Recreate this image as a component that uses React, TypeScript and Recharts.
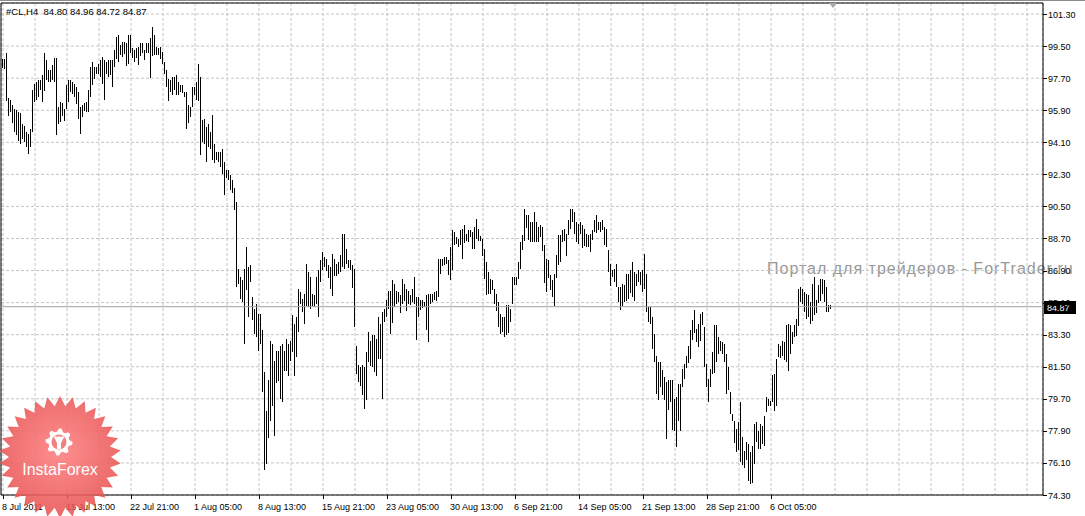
import React from "react";
import { BarChart, Bar, XAxis, YAxis, CartesianGrid, ReferenceLine, ReferenceArea } from "recharts";

// H4 bars of #CL (high / low per bar)
const highs = [
  98.75, 98.75, 99.09, 96.56, 96.5, 96.18, 95.99, 95.9, 95.81, 95.75,
  95.15, 95.0, 94.68, 94.59, 94.87, 97.03, 97.4, 97.49, 97.59, 97.59,
  97.87, 99.14, 98.71, 98.15, 98.15, 98.43, 98.81, 98.81, 96.09, 96.37,
  96.28, 95.99, 97.31, 97.59, 97.59, 97.49, 97.4, 97.21, 96.93, 96.09,
  96.18, 96.28, 96.37, 97.03, 98.34, 98.62, 98.34, 98.34, 98.52, 98.71,
  98.9, 98.71, 98.62, 98.71, 98.71, 98.71, 99.27, 100.02, 100.12, 99.55,
  99.74, 99.74, 99.65, 100.12, 100.12, 99.37, 99.27, 99.37, 99.46, 99.65,
  99.65, 99.27, 99.65, 99.65, 99.93, 100.59, 100.12, 99.46, 99.37, 99.46,
  99.18, 98.62, 98.15, 97.68, 97.59, 97.77, 97.77, 97.87, 97.49, 97.31,
  97.31, 96.93, 96.93, 96.18, 96.09, 97.21, 97.21, 97.49, 98.52, 97.77,
  95.34, 95.43, 94.96, 95.15, 94.68, 95.62, 94.03, 93.56, 93.56, 93.56,
  93.75, 92.99, 92.53, 92.53, 92.25, 91.97, 91.52, 90.75, 87.0, 86.53,
  86.35, 87.0, 88.22, 87.1, 87.19, 85.41, 84.75, 85.03, 84.47, 84.47,
  83.54, 81.19, 79.04, 80.73, 82.97, 82.79, 81.85, 82.41, 82.41, 82.69,
  82.79, 82.41, 83.07, 82.79, 82.97, 84.38, 83.91, 84.29, 85.88, 85.69,
  85.32, 85.6, 87.28, 86.82, 86.53, 85.6, 85.5, 86.53, 86.91, 87.47,
  87.94, 87.66, 87.56, 87.19, 87.1, 87.85, 87.56, 87.28, 87.38, 87.75,
  88.97, 88.97, 88.13, 87.47, 87.47, 87.19, 87.0, 82.69, 81.57, 81.48,
  81.57, 81.48, 82.32, 83.44, 82.97, 83.26, 83.26, 83.07, 84.29, 83.91,
  84.57, 84.75, 85.22, 85.78, 85.78, 86.35, 86.16, 85.78, 85.69, 85.5,
  86.44, 86.16, 85.88, 85.78, 85.5, 85.88, 86.53, 85.41, 85.41, 85.22,
  85.22, 85.13, 85.5, 85.6, 85.6, 85.6, 85.69, 85.78, 87.57, 87.57,
  87.57, 87.66, 87.66, 87.47, 88.22, 89.16, 89.06, 88.78, 88.69, 89.16,
  89.25, 89.44, 88.97, 89.16, 89.16, 89.06, 89.35, 89.81, 89.25, 88.84,
  88.69, 88.13, 87.38, 86.82, 86.44, 86.35, 85.88, 85.6, 85.13, 84.47,
  84.29, 84.29, 84.94, 84.94, 84.75, 86.53, 86.53, 86.53, 87.38, 88.5,
  88.88, 90.38, 90.0, 90.0, 89.63, 89.63, 90.19, 89.63, 89.35, 89.44,
  89.35, 88.32, 87.57, 87.47, 86.63, 86.35, 86.72, 87.75, 88.88, 88.88,
  89.16, 89.25, 88.97, 89.72, 90.38, 90.38, 90.19, 89.63, 89.53, 89.63,
  89.44, 89.25, 88.97, 88.88, 88.97, 89.16, 89.72, 90.0, 89.63, 89.63,
  89.72, 89.35, 89.25, 88.03, 87.28, 86.91, 87.0, 87.28, 85.97, 85.97,
  86.16, 86.07, 86.72, 86.72, 86.91, 87.38, 86.82, 86.72, 86.91, 86.82,
  86.91, 87.85, 86.72, 84.85, 84.85, 84.29, 83.35, 82.13, 81.76, 81.76,
  81.29, 80.91, 80.63, 80.73, 80.73, 80.73, 79.69, 79.79, 80.54, 80.54,
  81.38, 81.66, 82.13, 82.69, 83.54, 84.1, 84.66, 83.63, 83.91, 84.47,
  84.57, 83.72, 81.66, 80.82, 81.38, 82.32, 83.82, 83.82, 83.16, 82.97,
  82.88, 82.79, 82.22, 81.47, 80.07, 78.85, 78.48, 78.01, 78.38, 79.51,
  77.54, 76.79, 77.26, 77.17, 76.7, 77.07, 78.29, 78.38, 77.91, 78.29,
  78.2, 78.76, 79.79, 79.7, 79.6, 81.01, 81.1, 81.94, 82.79, 82.69,
  82.97, 82.88, 83.82, 83.91, 83.82, 83.44, 83.82, 84.19, 85.88, 85.97,
  85.88, 85.69, 85.6, 85.5, 85.13, 86.16, 86.54, 85.22, 86.07, 86.44,
  86.44, 86.35, 85.97, 84.94, 84.96,
];

const lows = [
  98.24, 98.19, 96.37, 95.53, 95.81, 95.15, 94.68, 94.49, 94.21, 94.03,
  94.31, 94.12, 93.84, 93.46, 93.84, 94.68, 96.37, 96.46, 96.65, 97.03,
  96.37, 97.03, 97.59, 97.49, 97.49, 97.59, 97.49, 94.49, 95.15, 95.24,
  95.53, 95.34, 95.99, 96.37, 96.93, 96.84, 96.65, 96.28, 95.43, 94.59,
  95.53, 95.81, 95.81, 95.81, 96.65, 97.31, 97.68, 97.96, 97.96, 97.77,
  97.4, 96.46, 97.96, 97.77, 97.87, 97.21, 98.34, 98.81, 98.62, 98.99,
  98.9, 99.09, 98.34, 98.52, 99.09, 98.81, 98.62, 98.81, 98.43, 98.9,
  99.09, 98.71, 99.09, 99.09, 97.68, 98.99, 98.99, 98.99, 98.99, 98.81,
  98.52, 97.96, 97.21, 96.46, 96.93, 96.74, 97.03, 96.74, 96.74, 96.93,
  96.84, 96.65, 94.87, 95.15, 95.53, 96.09, 96.74, 96.46, 96.46, 93.37,
  94.12, 94.03, 92.99, 93.84, 93.75, 93.09, 92.99, 93.09, 92.99, 92.71,
  92.34, 91.12, 92.06, 91.97, 91.4, 91.22, 90.28, 85.97, 86.16, 85.32,
  85.13, 82.79, 85.78, 84.29, 86.25, 84.1, 83.35, 83.16, 82.41, 82.79,
  80.07, 75.67, 76.04, 77.45, 78.48, 79.32, 77.63, 80.63, 80.73, 79.7,
  79.51, 81.29, 81.29, 81.01, 81.85, 82.32, 81.01, 82.04, 83.44, 85.03,
  84.57, 83.91, 84.94, 84.85, 84.75, 84.94, 84.85, 85.03, 84.29, 86.25,
  86.91, 87.1, 86.91, 86.44, 85.88, 85.5, 86.63, 86.63, 86.72, 86.82,
  87.1, 87.0, 87.28, 87.0, 86.91, 85.88, 83.72, 81.1, 80.63, 80.44,
  79.88, 79.13, 79.6, 81.76, 81.57, 81.48, 81.19, 81.01, 81.94, 81.94,
  79.69, 84.0, 84.29, 84.75, 83.35, 83.91, 84.85, 85.04, 85.13, 84.47,
  85.04, 85.22, 84.66, 85.04, 84.94, 85.13, 85.04, 82.97, 84.29, 84.66,
  84.75, 84.85, 83.54, 82.88, 85.04, 85.13, 85.22, 85.22, 85.41, 86.72,
  87.19, 87.19, 87.28, 86.63, 86.35, 86.91, 88.32, 88.41, 88.22, 88.32,
  87.57, 88.41, 88.6, 88.5, 88.78, 88.13, 88.13, 88.69, 88.6, 88.54,
  87.75, 86.44, 85.5, 85.6, 85.6, 85.78, 85.04, 84.66, 83.72, 83.35,
  83.44, 83.16, 83.26, 83.35, 84.0, 85.04, 86.07, 86.07, 86.44, 87.0,
  88.03, 88.6, 89.25, 88.6, 88.5, 88.5, 88.5, 88.5, 88.5, 88.78,
  88.03, 86.16, 85.69, 86.44, 85.78, 85.41, 84.94, 86.44, 87.19, 87.38,
  88.5, 88.6, 87.75, 88.88, 89.25, 89.63, 88.97, 88.5, 88.41, 88.97,
  88.13, 88.32, 88.22, 88.22, 87.94, 88.6, 89.06, 88.97, 89.16, 89.06,
  89.16, 88.32, 88.22, 86.82, 86.07, 86.53, 86.25, 85.97, 85.13, 84.66,
  84.94, 85.13, 85.22, 85.32, 85.6, 85.41, 85.22, 86.07, 86.25, 86.07,
  85.69, 85.88, 84.57, 84.01, 83.91, 82.51, 81.76, 79.98, 79.6, 80.35,
  79.88, 79.6, 77.45, 79.04, 79.51, 77.92, 77.92, 76.98, 78.48, 77.92,
  80.35, 80.82, 81.47, 81.76, 81.94, 82.97, 83.35, 82.88, 82.6, 82.97,
  83.82, 81.47, 80.35, 79.51, 80.35, 81.1, 81.1, 81.76, 82.22, 82.41,
  82.22, 81.76, 79.98, 80.16, 78.85, 78.48, 77.26, 76.7, 76.79, 76.13,
  75.95, 75.85, 76.23, 75.1, 74.92, 75.01, 76.04, 77.26, 76.88, 76.88,
  77.17, 77.07, 78.95, 79.32, 79.32, 79.51, 79.04, 79.32, 82.04, 82.04,
  82.13, 81.85, 81.76, 81.29, 82.22, 82.79, 83.16, 83.26, 83.82, 85.13,
  85.04, 84.57, 84.19, 84.29, 83.91, 84.1, 84.38, 84.47, 85.04, 85.22,
  85.6, 85.13, 84.57, 84.57, 84.72,
];

// last bar: open, high, low, close
const lastOhlc = [84.8, 84.96, 84.72, 84.87];

const timeLabels = [
  "8 Jul 2011", "15 Jul 13:00", "22 Jul 21:00", "1 Aug 05:00", "8 Aug 13:00",
  "15 Aug 21:00", "23 Aug 05:00", "30 Aug 13:00", "6 Sep 21:00", "14 Sep 05:00",
  "21 Sep 13:00", "28 Sep 21:00", "6 Oct 05:00",
];

const priceTicks = [
  74.3, 76.1, 77.9, 79.7, 81.5, 83.3, 85.1, 86.9, 88.7, 90.5, 92.3, 94.1, 95.9, 97.7, 99.5, 101.3,
];

const bars = highs.map((h, i) => ({ i, range: [lows[i], h] }));

// vertical grid every 16 bars, time label every 32
const gridTicks = Array.from({ length: 33 }, (_, k) => k * 16);

const FONT = "'Liberation Sans', Arial, sans-serif";

const Stick = (props: any) => {
  const { x, y, width, height } = props;
  const cx = Math.round(x + width / 2 - 0.5);
  return <rect x={cx} y={Math.round(y)} width={1} height={Math.max(1, Math.round(height))} fill="#000" shapeRendering="crispEdges" />;
};

const TimeTick = (props: any) => {
  const { x, y, payload } = props;
  const k = payload.value / 32;
  if (!Number.isInteger(k) || !timeLabels[k]) return <g />;
  const px = Math.round(x) + 0.5;
  return (
    <g>
      <line x1={px} x2={px} y1={y} y2={y + 4} stroke="#000" />
      <text x={x - 1} y={y + 15} fontSize={9} fontFamily={FONT} fill="#000" textAnchor="start">
        {timeLabels[k]}
      </text>
    </g>
  );
};

const PriceTick = (props: any) => {
  const { x, y, payload } = props;
  const py = Math.round(y) + 0.5;
  return (
    <g>
      <line x1={x} x2={x + 4} y1={py} y2={py} stroke="#000" />
      <text x={x + 5} y={y + 3.5} fontSize={9} fontFamily={FONT} fill="#000" textAnchor="start">
        {payload.value.toFixed(2)}
      </text>
    </g>
  );
};

const PriceBox = (props: any) => {
  const { viewBox } = props;
  const x = viewBox.x + viewBox.width + 1;
  const y = Math.round(viewBox.y);
  return (
    <g>
      <rect x={x} y={y - 6} width={32} height={13} fill="#000" />
      <text x={x + 3} y={y + 3.5} fontSize={9} fontFamily={FONT} fill="#fff">
        {lastOhlc[3].toFixed(2)}
      </text>
    </g>
  );
};

const starPoints = Array.from({ length: 60 }, (_, k) => {
  const a = (k * Math.PI) / 30 - Math.PI / 2;
  const r = k % 2 === 0 ? 61 : 51;
  return `${60 + r * Math.cos(a)},${457 + r * Math.sin(a)}`;
}).join(" ");

const gearPoints = Array.from({ length: 32 }, (_, k) => {
  const a = (k * Math.PI) / 16;
  const r = k % 4 < 2 ? 13.5 : 10.5;
  return `${59 + r * Math.cos(a)},${442 + r * Math.sin(a)}`;
}).join(" ");

const layer = { position: "absolute" as const, left: 0, top: 0, pointerEvents: "none" as const };

// watermark sits under the chart, so grid and axis labels draw over it
function Watermark() {
  return (
    <svg width={1085} height={516} style={layer}>
      <text x={767} y={274} fontSize={16} fontFamily={FONT} fill="#979797" letterSpacing={1}>
        Портал для трейдеров - ForTrader.ru
      </text>
    </svg>
  );
}

function Overlay() {
  return (
    <svg width={1085} height={516} style={layer}>
      <defs>
        <radialGradient id="star" cx="50%" cy="45%" r="55%">
          <stop offset="0%" stopColor="#ff8080" />
          <stop offset="100%" stopColor="#e85252" />
        </radialGradient>
      </defs>
      <line x1={0} x2={1085} y1={0.5} y2={0.5} stroke="#8a8a8a" />
      <polygon points="829,3 837,3 833,8" fill="#a8a8a8" />
      <text x={6} y={15} fontSize={9.5} fontFamily={FONT} fill="#000" style={{ whiteSpace: "pre" }}>
        {`#CL,H4  ${lastOhlc.map((v) => v.toFixed(2)).join(" ")}`}
      </text>
      <g opacity={0.88}>
        <polygon points={starPoints} fill="url(#star)" />
        <polygon points={gearPoints} fill="#fff" />
        <circle cx={59} cy={442} r={7.5} fill="#f07070" />
        <circle cx={59} cy={438.5} r={2.2} fill="#fff" />
        <path d="M54,437 L57,443 L57,449 L61,449 L61,443 L64,437 L62,436 L59,441 L56,436 Z" fill="#fff" />
        <text x={60} y={475} fontSize={16} fontFamily={FONT} fill="#fff" textAnchor="middle">
          InstaForex
        </text>
      </g>
    </svg>
  );
}

export default function App() {
  return (
    <div style={{ position: "absolute", left: 0, top: 0, width: 1085, height: 516, background: "#fff" }}>
      <Watermark />
      <div style={{ position: "absolute", left: 0, top: 0 }}>
        <BarChart width={1085} height={516} data={bars} margin={{ top: 3, right: 0, bottom: 0, left: 1 }}>
          <CartesianGrid stroke="#c4c4c4" strokeDasharray="3 2" />
          <XAxis
            type="number"
            dataKey="i"
            domain={[-1, 520]}
            allowDataOverflow
            ticks={gridTicks}
            interval={0}
            height={21}
            tickSize={0}
            tickMargin={0}
            tickLine={false}
            axisLine={false}
            tick={<TimeTick />}
          />
          <YAxis
            orientation="right"
            type="number"
            domain={[74.3, 101.92]}
            allowDataOverflow
            ticks={priceTicks}
            interval={0}
            width={42}
            tickSize={0}
            tickMargin={0}
            tickLine={false}
            axisLine={false}
            tick={<PriceTick />}
          />
          <Bar dataKey="range" barSize={1} isAnimationActive={false} shape={<Stick />} />
          <ReferenceLine y={lastOhlc[3]} stroke="#a0a0a0" label={<PriceBox />} />
          <ReferenceArea x1={-1} x2={520} y1={74.3} y2={101.92} fill="none" stroke="#000" ifOverflow="visible" />
        </BarChart>
      </div>
      <Overlay />
    </div>
  );
}
